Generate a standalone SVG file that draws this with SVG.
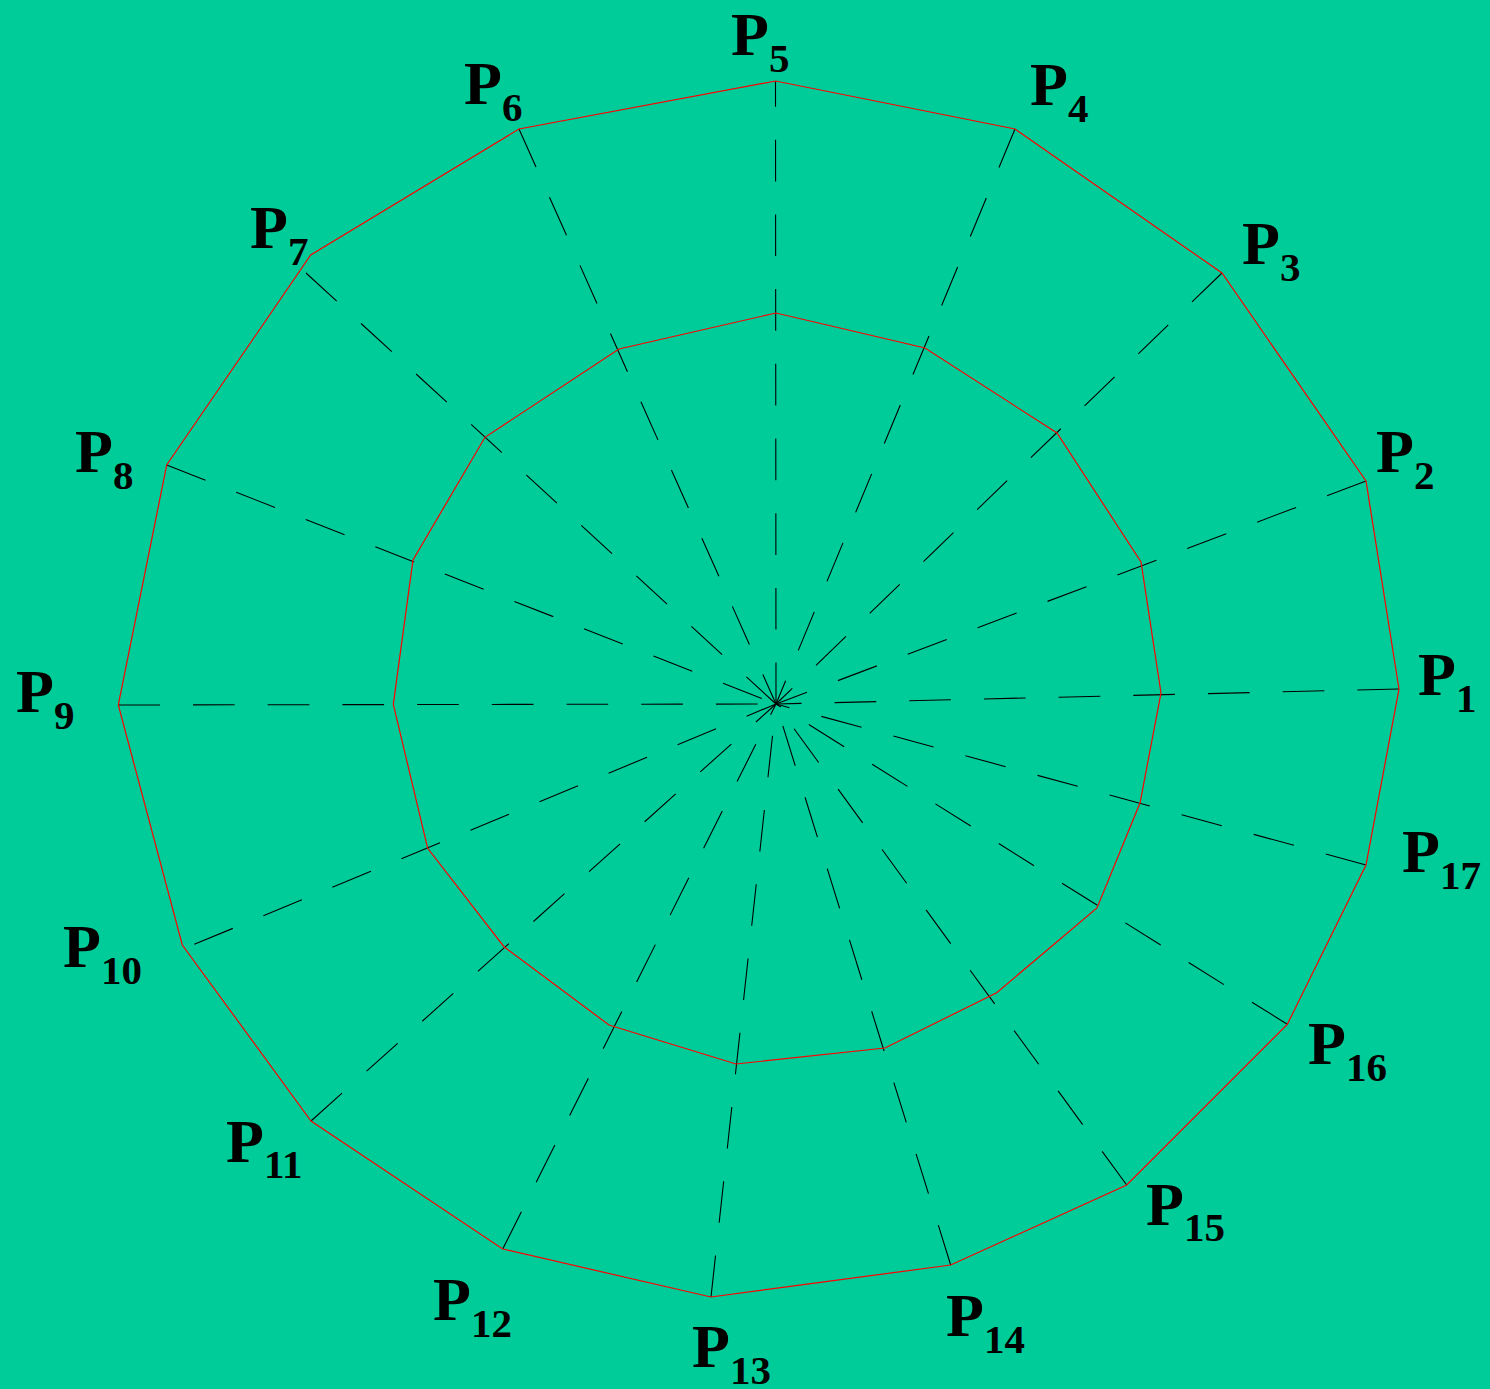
<svg xmlns="http://www.w3.org/2000/svg" width="1490" height="1389" viewBox="0 0 1490 1389">
<style>
.bg{fill:#00CC99}
.poly{fill:none;stroke:#FF0000;stroke-width:1.2;stroke-linejoin:miter}
.ray{stroke:#000;stroke-width:1.1;stroke-dasharray:41.7 33;fill:none}
.lbl{font-family:"Liberation Serif","Times New Roman",serif;font-weight:bold;font-size:62px;fill:#000}
.sub{font-size:41px}
</style>
<rect class="bg" x="0" y="0" width="1490" height="1389"/>
<g id="connectors">
<line class="ray" x1="1399" y1="689" x2="776" y2="704"/>
<line class="ray" x1="1366" y1="481" x2="776" y2="704"/>
<line class="ray" x1="1222" y1="273" x2="776" y2="704"/>
<line class="ray" x1="1015" y1="129" x2="776" y2="704"/>
<line class="ray" x1="775.5" y1="81" x2="776" y2="704" stroke-dashoffset="16"/>
<line class="ray" x1="519" y1="129" x2="776" y2="704"/>
<line class="ray" x1="306" y1="273" x2="776" y2="704"/>
<line class="ray" x1="166.7" y1="465" x2="776" y2="704"/>
<line class="ray" x1="118.3" y1="705" x2="776" y2="704"/>
<line class="ray" x1="194.3" y1="944.3" x2="776" y2="704"/>
<line class="ray" x1="311" y1="1121" x2="776" y2="704"/>
<line class="ray" x1="502.7" y1="1249" x2="776" y2="704"/>
<line class="ray" x1="711" y1="1297" x2="776" y2="704"/>
<line class="ray" x1="950.7" y1="1265" x2="776" y2="704"/>
<line class="ray" x1="1126.7" y1="1185" x2="776" y2="704"/>
<line class="ray" x1="1287.3" y1="1024.3" x2="776" y2="704"/>
<line class="ray" x1="1366" y1="865" x2="776" y2="704"/>
</g>
<g id="outer-polygon">
<polygon class="poly" points="1399,689 1366,481 1222,273 1015,129 775.5,81 519,129 310.7,255 166.7,465 118.3,705 182.3,945 311,1121 502.7,1249 711,1297 950.7,1265 1126.7,1185 1287.3,1024.3 1366,865"/>
</g>
<g id="inner-polygon">
<polygon class="poly" points="1161,693 1141,562 1057,433 925,348 776,313 619,349 485,437.3 413,560 393.3,704.3 427.7,848.3 504,946.7 609,1025 736,1064 885,1048 996.7,992.7 1097,908 1140,803"/>
</g>
<g id="P1"><text class="lbl" x="1418" y="695">P<tspan class="sub" dy="17">1</tspan></text></g>
<g id="P2"><text class="lbl" x="1376" y="472">P<tspan class="sub" dy="17">2</tspan></text></g>
<g id="P3"><text class="lbl" x="1242" y="264">P<tspan class="sub" dy="17">3</tspan></text></g>
<g id="P4"><text class="lbl" x="1030" y="105">P<tspan class="sub" dy="17">4</tspan></text></g>
<g id="P5"><text class="lbl" x="731" y="55">P<tspan class="sub" dy="17">5</tspan></text></g>
<g id="P6"><text class="lbl" x="464" y="104">P<tspan class="sub" dy="17">6</tspan></text></g>
<g id="P7"><text class="lbl" x="250" y="248">P<tspan class="sub" dy="17">7</tspan></text></g>
<g id="P8"><text class="lbl" x="75" y="472">P<tspan class="sub" dy="17">8</tspan></text></g>
<g id="P9"><text class="lbl" x="16" y="712">P<tspan class="sub" dy="17">9</tspan></text></g>
<g id="P10"><text class="lbl" x="63" y="967">P<tspan class="sub" dy="17">10</tspan></text></g>
<g id="P11"><text class="lbl" x="226" y="1162">P<tspan class="sub" dy="16">11</tspan></text></g>
<g id="P12"><text class="lbl" x="433" y="1320">P<tspan class="sub" dy="17">12</tspan></text></g>
<g id="P13"><text class="lbl" x="692" y="1367">P<tspan class="sub" dy="17">13</tspan></text></g>
<g id="P14"><text class="lbl" x="946" y="1336">P<tspan class="sub" dy="17">14</tspan></text></g>
<g id="P15"><text class="lbl" x="1146" y="1225">P<tspan class="sub" dy="16">15</tspan></text></g>
<g id="P16"><text class="lbl" x="1308" y="1064">P<tspan class="sub" dy="17">16</tspan></text></g>
<g id="P17"><text class="lbl" x="1402" y="872">P<tspan class="sub" dy="17">17</tspan></text></g>
</svg>
